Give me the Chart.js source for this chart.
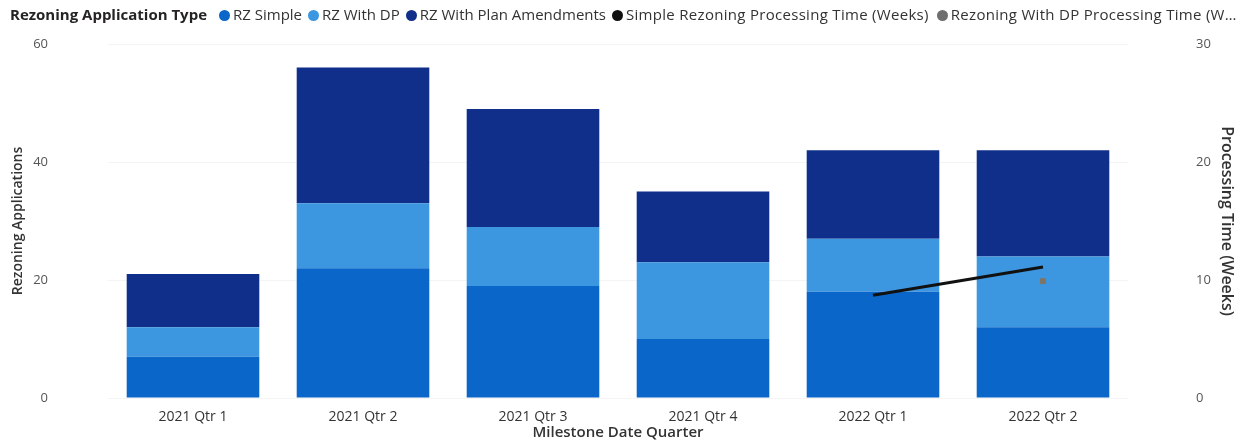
<!DOCTYPE html>
<html>
<head>
<meta charset="utf-8">
<script src="https://cdn.jsdelivr.net/npm/chart.js@4"></script>
<style>
    body { margin: 0; background: #fff; font-family: "Open Sans", sans-serif; }
    #wrap { position: relative; width: 1248px; height: 443px; }
    #legend {
        position: absolute; left: 10px; top: 4px; width: 1234px;
        white-space: nowrap; overflow: hidden; text-overflow: ellipsis;
        font-size: 15px; color: #333;
    }
    #legend b { color: #252423; margin-right: 12px; }
    #legend span.item { margin-right: 6px; }
    #legend span.wide { letter-spacing: 0.3px; margin-right: 8px; }
    #legend i {
        display: inline-block; width: 11px; height: 11px; border-radius: 50%;
        margin-right: 3px; vertical-align: -1px;
    }
</style>
</head>
<body>
<div id="wrap">
    <div id="legend"></div>
    <canvas id="rzChart" width="1248" height="443"></canvas>
</div>
<script>
const quarters = ["2021 Qtr 1", "2021 Qtr 2", "2021 Qtr 3", "2021 Qtr 4", "2022 Qtr 1", "2022 Qtr 2"];
const rzSimple = [7, 22, 19, 10, 18, 12];
const rzWithDp = [5, 11, 10, 13, 9, 12];
const rzPlanAmend = [9, 23, 20, 12, 15, 18];
const simpleWeeks = [null, null, null, null, 8.7, 11.1];
const dpWeeks = [null, null, null, null, null, 9.9];

const legendTitle = "Rezoning Application Type";

const datasets = [
    {
        type: "bar", label: "RZ Simple", data: rzSimple, yAxisID: "y", stack: "rz", order: 1,
        backgroundColor: "#0a66c8", barPercentage: 0.78, categoryPercentage: 1
    },
    {
        type: "bar", label: "RZ With DP", data: rzWithDp, yAxisID: "y", stack: "rz", order: 1,
        backgroundColor: "#3d97e0", barPercentage: 0.78, categoryPercentage: 1
    },
    {
        type: "bar", label: "RZ With Plan Amendments", data: rzPlanAmend, yAxisID: "y", stack: "rz", order: 1,
        backgroundColor: "#0f2f8a", barPercentage: 0.78, categoryPercentage: 1
    },
    {
        type: "line", label: "Simple Rezoning Processing Time (Weeks)", data: simpleWeeks, yAxisID: "y1", order: 0,
        borderColor: "#111", backgroundColor: "#111", borderWidth: 3, pointRadius: 0, spanGaps: false
    },
    {
        type: "line", label: "Rezoning With DP Processing Time (Weeks)", data: dpWeeks, yAxisID: "y1", order: 0,
        borderColor: "#807565", backgroundColor: "#807565", showLine: false, pointRadius: 3.5, pointStyle: "rect"
    }
];

// html legend, Power BI style (title inline, text cut off at the edge)
const legendColors = ["#0a66c8", "#3d97e0", "#0f2f8a", "#111", "#6f6f6f"];
let html = "<b>" + legendTitle + "</b>";
datasets.forEach((ds, i) => {
    const cls = ds.type === "line" ? "item wide" : "item";
    html += '<span class="' + cls + '"><i style="background:' + legendColors[i] + '"></i>' + ds.label + "</span>";
});
document.getElementById("legend").innerHTML = html;

const tickFont = { family: "'Open Sans', sans-serif", size: 14 };
const yTickFont = { family: "'Open Sans', sans-serif", size: 13 };
const titleFont = { family: "'Open Sans', sans-serif", size: 15, weight: "600" };

// tick padding on a vertical axis also pads top/bottom, undo that
function fixAxis(width) {
    return (scale) => {
        scale.width = width;
        scale.paddingTop = 8;
        scale.paddingBottom = 8;
    };
}

new Chart(document.getElementById("rzChart"), {
    data: { labels: quarters, datasets: datasets },
    options: {
        responsive: false,
        animation: false,
        layout: { padding: { top: 44, bottom: 0 } },
        plugins: {
            legend: { display: false },
            tooltip: { enabled: false }
        },
        scales: {
            x: {
                stacked: true,
                grid: { display: false },
                border: { display: false },
                ticks: { color: "#333", font: tickFont, padding: 3 },
                title: { display: true, text: "Milestone Date Quarter", color: "#333", font: titleFont, padding: { top: 0, bottom: 1 } },
                afterFit: (scale) => { scale.height = 45; }
            },
            y: {
                position: "left",
                stacked: true,
                min: 0, max: 60,
                ticks: { stepSize: 20, color: "#555", font: yTickFont, padding: 60 },
                grid: { color: "#f4f4f4", drawTicks: false },
                border: { display: false },
                title: { display: true, text: "Rezoning Applications", color: "#333", font: { ...titleFont, size: 14 }, padding: { top: 10, bottom: 0 } },
                afterFit: fixAxis(108)
            },
            y1: {
                position: "right",
                min: 0, max: 30,
                ticks: { stepSize: 10, color: "#555", font: yTickFont, padding: 60 },
                grid: { display: false },
                border: { display: false },
                title: { display: true, text: "Processing Time (Weeks)", color: "#333", font: { ...titleFont, size: 16 }, padding: { top: 12, bottom: 0 } },
                afterFit: fixAxis(120)
            }
        }
    }
});
</script>
</body>
</html>
